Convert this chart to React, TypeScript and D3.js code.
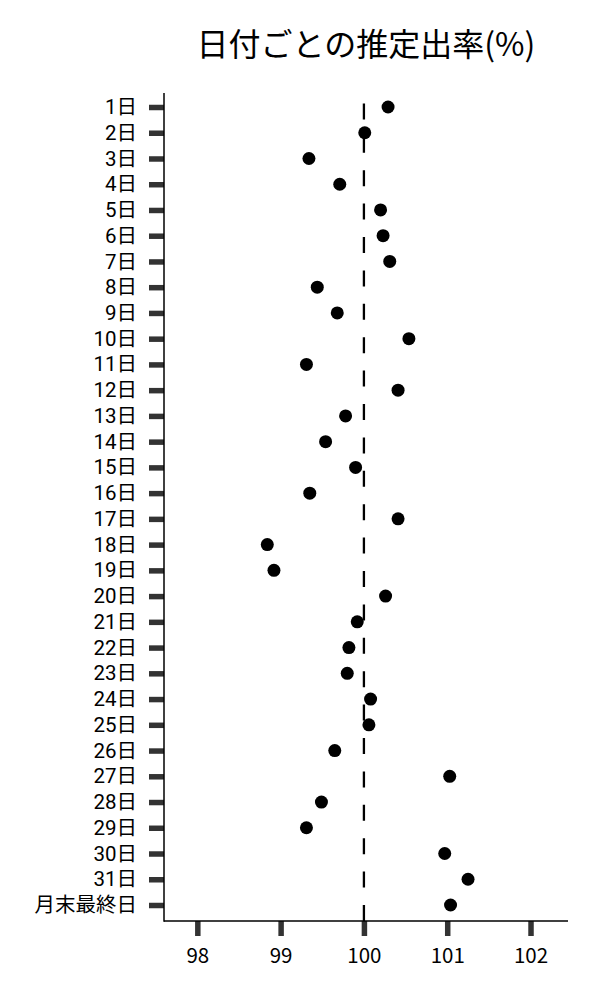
import React, { useRef, useEffect } from 'react';
import * as d3 from 'd3';

const days: string[] = [
    '1日', '2日', '3日', '4日', '5日', '6日', '7日', '8日', '9日', '10日',
    '11日', '12日', '13日', '14日', '15日', '16日', '17日', '18日', '19日', '20日',
    '21日', '22日', '23日', '24日', '25日', '26日', '27日', '28日', '29日', '30日',
    '31日', '月末最終日',
];

const rates: number[] = [
    100.29, 100.01, 99.34, 99.71, 100.20, 100.23, 100.31, 99.44, 99.68, 100.54,
    99.31, 100.41, 99.78, 99.54, 99.90, 99.35, 100.41, 98.84, 98.92, 100.26,
    99.92, 99.82, 99.80, 100.08, 100.06, 99.65, 101.03, 99.49, 99.31, 100.97,
    101.25, 101.04,
];

const xTicks: number[] = [98, 99, 100, 101, 102];

const title = '日付ごとの推定出率(%)';
const font = '"Noto Sans CJK JP", "Noto Sans", sans-serif';
// compact line box for the tightly packed day labels, CJK glyphs fall back to Noto
const labelFont = 'Roboto, "Noto Sans CJK JP", sans-serif';

const width = 600;
const height = 1000;
const margin = { top: 93, right: 32, bottom: 79, left: 164 };

const DotPlot: React.FC = () => {
    const ref = useRef<SVGSVGElement>(null);

    useEffect(() => {
        if (!ref.current) return;
        const svg = d3.select(ref.current);
        svg.selectAll('*').remove();

        const x = d3.scaleLinear()
            .domain([97.6, 102.45])
            .range([margin.left, width - margin.right]);

        const y = d3.scalePoint<string>()
            .domain(days)
            .range([107, 905]);

        const plotBottom = height - margin.bottom;

        // title
        svg.append('text')
            .attr('x', (margin.left + width - margin.right) / 2)
            .attr('y', 56)
            .attr('text-anchor', 'middle')
            .attr('font-family', font)
            .attr('font-size', 32)
            .attr('fill', '#000')
            .text(title);

        // reference line at 100, dashes run up from the x axis
        svg.append('line')
            .attr('x1', x(100)).attr('x2', x(100))
            .attr('y1', plotBottom).attr('y2', margin.top)
            .attr('stroke', '#000')
            .attr('stroke-width', 2.3)
            .attr('stroke-dasharray', '16,17.4');

        // y axis
        const yAxis = svg.append('g')
            .attr('transform', `translate(${margin.left},0)`)
            .call(d3.axisLeft(y).tickSize(15).tickPadding(12));
        yAxis.select('.domain').remove();
        yAxis.selectAll('.tick line')
            .attr('stroke', '#333')
            .attr('stroke-width', 5.5);
        yAxis.selectAll('.tick text')
            .attr('font-family', labelFont)
            .attr('font-size', 20.5)
            .attr('fill', '#000');

        // x axis
        const xAxis = svg.append('g')
            .attr('transform', `translate(0,${plotBottom})`)
            .call(d3.axisBottom(x).tickValues(xTicks).tickFormat(d3.format('d')).tickSize(15).tickPadding(12));
        xAxis.select('.domain').remove();
        xAxis.selectAll('.tick line')
            .attr('stroke', '#333')
            .attr('stroke-width', 5.5);
        xAxis.selectAll('.tick text')
            .attr('font-family', font)
            .attr('font-size', 20.5)
            .attr('fill', '#000');

        // axis spines
        svg.append('line')
            .attr('x1', margin.left).attr('x2', margin.left)
            .attr('y1', margin.top).attr('y2', plotBottom + 0.75)
            .attr('stroke', '#000').attr('stroke-width', 1.5);
        svg.append('line')
            .attr('x1', margin.left).attr('x2', width - margin.right)
            .attr('y1', plotBottom).attr('y2', plotBottom)
            .attr('stroke', '#000').attr('stroke-width', 1.5);

        // dots
        svg.selectAll('.dot')
            .data(rates)
            .enter()
            .append('circle')
            .classed('dot', true)
            .attr('cx', (d: number) => x(d))
            .attr('cy', (_d: number, i: number) => y(days[i])!)
            .attr('r', 6.5)
            .attr('fill', '#000');
    }, []);

    return <svg ref={ref} width={width} height={height} style={{ display: 'block' }}></svg>;
};

export default function App() {
    return (
        <div style={{ margin: -8 }}>
            <DotPlot />
        </div>
    );
}
